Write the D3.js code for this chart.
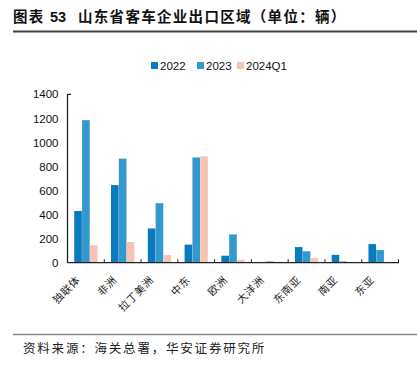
<!DOCTYPE html>
<html>
<head>
<meta charset="utf-8">
<script src="https://cdn.jsdelivr.net/npm/d3@7"></script>
<style>
  body { margin: 0; background: #fff; }
  svg { display: block; font-family: "Liberation Sans", Arial, sans-serif; }
</style>
</head>
<body>
<svg id="chart" width="417" height="365"></svg>
<script>
const regions = ['独联体', '非洲', '拉丁美洲', '中东', '欧洲', '大洋洲', '东南亚', '南亚', '东亚'];
const seriesNames = ['2022', '2023', '2024Q1'];
const v2022 = [430, 645, 285, 150, 58, 2, 130, 65, 155];
const v2023 = [1185, 865, 495, 875, 235, 10, 95, 10, 105];
const v2024q1 = [145, 172, 64, 885, 25, 8, 40, 2, 5];
const yTicks = [0, 200, 400, 600, 800, 1000, 1200, 1400];
const colors = ['#0a7abd', '#3399cc', '#f6c5b2'];

const values = [v2022, v2023, v2024q1];
const rows = regions.map((r, i) => ({ region: r, vals: values.map(s => s[i]) }));

const svg = d3.select('#chart');

// title
const title = svg.append('text')
  .attr('y', 22)
  .attr('font-family', '"Noto Sans CJK SC", sans-serif')
  .attr('font-size', 14.5).attr('font-weight', 'bold').attr('fill', '#111');
title.append('tspan').attr('x', 13).attr('letter-spacing', 1.2).text('图表');
title.append('tspan').attr('x', 50).attr('font-family', '"Liberation Sans", Arial, sans-serif').text('53');
title.append('tspan').attr('x', 78).attr('letter-spacing', 1.3).text('山东省客车企业出口区域（单位：辆）');
svg.append('line')
  .attr('x1', 13).attr('x2', 417).attr('y1', 31.5).attr('y2', 31.5)
  .attr('stroke', '#444').attr('stroke-width', 2);

const x = d3.scaleBand().domain(regions).range([67.5, 398.5]).paddingInner(0).paddingOuter(0);
const xs = d3.scaleBand().domain(seriesNames).range([6.5, x.bandwidth() - 6.5]).padding(0.03);
const y = d3.scaleLinear().domain([0, 1400]).range([262.7, 94.3]);

// bars
const groups = svg.append('g').selectAll('g')
  .data(rows).join('g')
  .attr('transform', d => `translate(${x(d.region)},0)`);
groups.selectAll('rect')
  .data(d => d.vals.map((v, i) => ({ v, i })))
  .join('rect')
  .attr('x', d => xs(seriesNames[d.i]))
  .attr('width', xs.bandwidth())
  .attr('y', d => y(d.v))
  .attr('height', d => y(0) - y(d.v))
  .attr('fill', d => colors[d.i]);

// y axis
const yAxis = svg.append('g')
  .attr('transform', 'translate(67.5,0)')
  .call(d3.axisLeft(y).tickValues(yTicks).tickFormat(d3.format('d')).tickSize(0).tickPadding(9));
yAxis.select('.domain').attr('stroke', '#222').attr('stroke-width', 1.3)
  .attr('d', `M3.5,${y(1400)}H0V${y(0)}`);
yAxis.selectAll('text').attr('font-size', 11.5).attr('fill', '#111')
  .attr('font-family', '"Liberation Sans", Arial, sans-serif');

// x axis
const bounds = regions.map(r => x(r) + x.bandwidth());
const xAxisG = svg.append('g');
xAxisG.append('line')
  .attr('x1', 67.5).attr('x2', 399).attr('y1', y(0)).attr('y2', y(0))
  .attr('stroke', '#222').attr('stroke-width', 1.3);
xAxisG.selectAll('line.tick')
  .data(bounds).join('line')
  .attr('class', 'tick')
  .attr('x1', d => d).attr('x2', d => d)
  .attr('y1', y(0)).attr('y2', y(0) - 3.5)
  .attr('stroke', '#222').attr('stroke-width', 1);
xAxisG.selectAll('text')
  .data(regions).join('text')
  .attr('transform', d => `translate(${x(d) + x.bandwidth() / 2 - 5},${y(0) + 18}) rotate(-45)`)
  .attr('text-anchor', 'end')
  .attr('font-family', '"Noto Sans CJK SC", sans-serif')
  .attr('font-size', 10.5).attr('letter-spacing', 0.6).attr('fill', '#222')
  .text(d => d);

// legend
const legendX = [151, 197, 237];
const legend = svg.append('g').selectAll('g')
  .data(seriesNames).join('g')
  .attr('transform', (d, i) => `translate(${legendX[i]},66)`);
legend.append('rect')
  .attr('x', 0).attr('y', -4).attr('width', 7).attr('height', 7)
  .attr('fill', (d, i) => colors[i]);
legend.append('text')
  .attr('x', 9).attr('y', 4)
  .attr('font-size', 11.5).attr('fill', '#111')
  .text(d => d);

// source
svg.append('line')
  .attr('x1', 13).attr('x2', 417).attr('y1', 334.5).attr('y2', 334.5)
  .attr('stroke', '#888').attr('stroke-width', 1.5);
svg.append('text')
  .attr('x', 23).attr('y', 353)
  .attr('font-family', '"Noto Sans CJK SC", sans-serif')
  .attr('font-size', 12.5).attr('letter-spacing', 1.8).attr('fill', '#222')
  .text('资料来源：海关总署，华安证券研究所');
</script>
</body>
</html>
